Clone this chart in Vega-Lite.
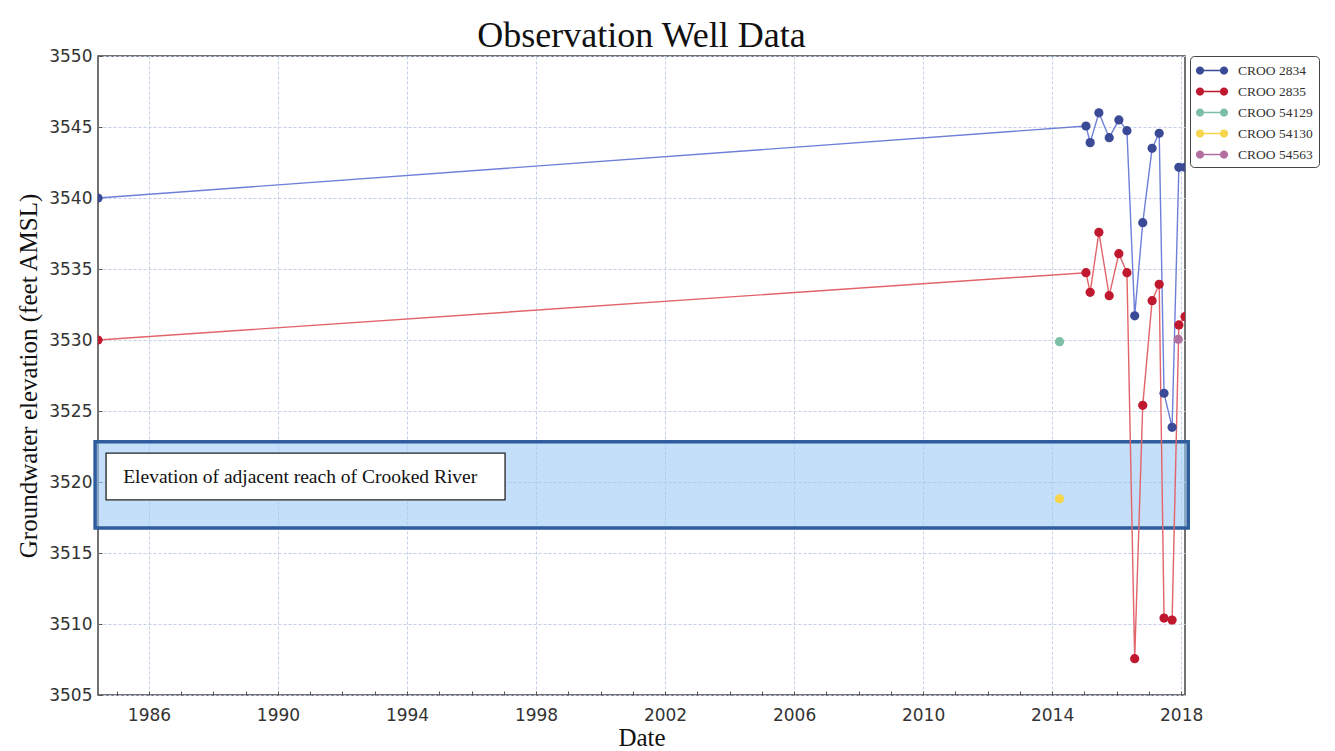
{
  "$schema": "https://vega.github.io/schema/vega-lite/v6.json",
  "width": 1087,
  "height": 639,
  "autosize": "none",
  "padding": {"left": 98, "top": 56, "right": 150, "bottom": 56},
  "background": "white",
  "title": {"text": "Observation Well Data", "font": "Liberation Serif", "fontSize": 36, "fontWeight": "normal", "color": "#111", "anchor": "middle", "frame": "group", "offset": -8},
  "config": {
    "view": {"stroke": "#444", "strokeWidth": 1.5},
    "axis": {"gridColor": "#c3d0e6", "gridDash": [3, 2], "gridWidth": 1, "tickColor": "#555", "tickSize": -4, "domain": false, "labelFont": "DejaVu Sans", "labelFontSize": 17, "labelColor": "#333", "labelFlush": false, "labelOverlap": false, "titleFont": "Liberation Serif", "titleFontSize": 25, "titleFontWeight": "normal", "titleColor": "#111"}
  },
  "encoding": {
    "x": {"field": "year", "type": "quantitative", "scale": {"domain": [1984.42, 2018.12], "nice": false, "zero": false},
      "axis": {"title": "Date", "values": [1985,1986,1987,1988,1989,1990,1991,1992,1993,1994,1995,1996,1997,1998,1999,2000,2001,2002,2003,2004,2005,2006,2007,2008,2009,2010,2011,2012,2013,2014,2015,2016,2017,2018],
        "labelExpr": "datum.value % 4 == 2 ? format(datum.value, 'd') : ''",
        "gridOpacity": {"condition": {"test": "datum.value % 4 == 2", "value": 1}, "value": 0},
        "labelPadding": 16, "titlePadding": 2}},
    "y": {"field": "elev", "type": "quantitative", "scale": {"domain": [3505, 3550], "nice": false, "zero": false},
      "axis": {"title": "Groundwater elevation (feet AMSL)", "values": [3505,3510,3515,3520,3525,3530,3535,3540,3545,3550], "format": "d", "labelPadding": 10, "titlePadding": 7}}
  },
  "layer": [
    {
      "data": {"values": [{"year": 1984.33, "year2": 2018.22, "elev": 3516.76, "elev2": 3522.83}]},
      "mark": {"type": "rect", "fill": "#9ccaf5", "fillOpacity": 0.6, "stroke": "#2f5d9e", "strokeWidth": 3.5, "clip": false},
      "encoding": {"x2": {"field": "year2"}, "y2": {"field": "elev2"}}
    },
    {
      "data": {"values": [{"year": 1984.67, "year2": 1997.04, "elev": 3518.74, "elev2": 3522.03}]},
      "mark": {"type": "rect", "fill": "white", "stroke": "#222", "strokeWidth": 1.3},
      "encoding": {"x2": {"field": "year2"}, "y2": {"field": "elev2"}}
    },
    {
      "data": {"values": [{"year": 1985.2, "elev": 3520.38, "label": "Elevation of adjacent reach of Crooked River"}]},
      "mark": {"type": "text", "align": "left", "baseline": "middle", "font": "Liberation Serif", "fontSize": 19.5, "color": "#111"},
      "encoding": {"text": {"field": "label"}}
    },
    {
      "data": {"name": "wells"},
      "transform": [{"filter": {"field": "well", "oneOf": ["CROO 2834", "CROO 2835"]}}],
      "mark": {"type": "line", "strokeWidth": 1.4, "clip": true},
      "encoding": {"stroke": {"field": "well", "type": "nominal", "legend": null,
        "scale": {"domain": ["CROO 2834", "CROO 2835"], "range": ["#6e7fd8", "#e2646a"]}}}
    },
    {
      "data": {"name": "wells"},
      "mark": {"type": "point", "filled": true, "size": 85, "opacity": 1, "clip": true},
      "encoding": {"color": {"field": "well", "type": "nominal",
        "scale": {"domain": ["CROO 2834", "CROO 2835", "CROO 54129", "CROO 54130", "CROO 54563"], "range": ["#3b4a96", "#c0182f", "#7dbfa6", "#f6d44c", "#b2709f"]},
        "legend": {"title": null, "orient": "right", "offset": 5, "padding": 6, "rowPadding": 6, "symbolSize": 225, "labelOffset": 25,
          "symbolType": "M-0.6,-0.09L2.6,-0.09L2.6,0.09L-0.6,0.09ZM-0.05,0C-0.05,0.3038,-0.2962,0.55,-0.6,0.55C-0.9038,0.55,-1.15,0.3038,-1.15,0C-1.15,-0.3038,-0.9038,-0.55,-0.6,-0.55C-0.2962,-0.55,-0.05,-0.3038,-0.05,0ZM3.15,0C3.15,0.3038,2.9038,0.55,2.6,0.55C2.2962,0.55,2.05,0.3038,2.05,0C2.05,-0.3038,2.2962,-0.55,2.6,-0.55C2.9038,-0.55,3.15,-0.3038,3.15,0Z",
          "labelFont": "Liberation Serif", "labelFontSize": 13.5, "labelColor": "#333", "strokeColor": "#444", "cornerRadius": 4, "fillColor": "white"}}}
    }
  ],
  "datasets": {
    "wells": [
      {"well": "CROO 2834", "year": 1984.42, "elev": 3540.0},
      {"well": "CROO 2834", "year": 2015.05, "elev": 3545.07},
      {"well": "CROO 2834", "year": 2015.18, "elev": 3543.9},
      {"well": "CROO 2834", "year": 2015.45, "elev": 3546.0},
      {"well": "CROO 2834", "year": 2015.77, "elev": 3544.25},
      {"well": "CROO 2834", "year": 2016.07, "elev": 3545.5},
      {"well": "CROO 2834", "year": 2016.32, "elev": 3544.74},
      {"well": "CROO 2834", "year": 2016.56, "elev": 3531.7},
      {"well": "CROO 2834", "year": 2016.81, "elev": 3538.26},
      {"well": "CROO 2834", "year": 2017.10, "elev": 3543.5},
      {"well": "CROO 2834", "year": 2017.32, "elev": 3544.56},
      {"well": "CROO 2834", "year": 2017.47, "elev": 3526.25},
      {"well": "CROO 2834", "year": 2017.72, "elev": 3523.85},
      {"well": "CROO 2834", "year": 2017.93, "elev": 3542.16},
      {"well": "CROO 2834", "year": 2018.12, "elev": 3542.16},
      {"well": "CROO 2835", "year": 1984.42, "elev": 3530.0},
      {"well": "CROO 2835", "year": 2015.05, "elev": 3534.74},
      {"well": "CROO 2835", "year": 2015.18, "elev": 3533.36},
      {"well": "CROO 2835", "year": 2015.45, "elev": 3537.58},
      {"well": "CROO 2835", "year": 2015.77, "elev": 3533.12},
      {"well": "CROO 2835", "year": 2016.07, "elev": 3536.08},
      {"well": "CROO 2835", "year": 2016.32, "elev": 3534.74},
      {"well": "CROO 2835", "year": 2016.56, "elev": 3507.56},
      {"well": "CROO 2835", "year": 2016.81, "elev": 3525.4},
      {"well": "CROO 2835", "year": 2017.10, "elev": 3532.77},
      {"well": "CROO 2835", "year": 2017.32, "elev": 3533.92},
      {"well": "CROO 2835", "year": 2017.47, "elev": 3510.42},
      {"well": "CROO 2835", "year": 2017.72, "elev": 3510.28},
      {"well": "CROO 2835", "year": 2017.93, "elev": 3531.06},
      {"well": "CROO 2835", "year": 2018.12, "elev": 3531.64},
      {"well": "CROO 54129", "year": 2014.23, "elev": 3529.88},
      {"well": "CROO 54130", "year": 2014.23, "elev": 3518.82},
      {"well": "CROO 54563", "year": 2017.91, "elev": 3530.05}
    ]
  }
}
